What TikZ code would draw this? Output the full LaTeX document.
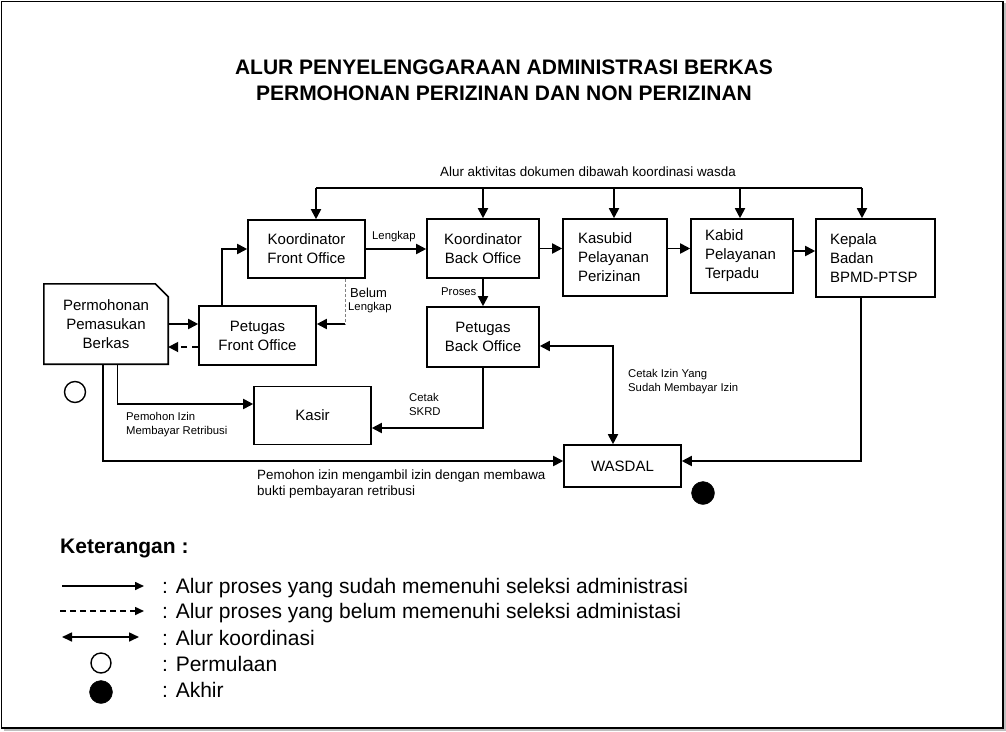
\documentclass[tikz,border=0pt]{standalone}
\usepackage{fontspec}
\setmainfont{Liberation Sans}
\usetikzlibrary{arrows.meta,positioning,calc}

\begin{document}
\begin{tikzpicture}[
    x=1pt, y=-1pt,
    box/.style={draw=black, line width=1.6pt, inner sep=0pt, align=center, font=\fontsize{15}{19}\selectfont},
    lbox/.style={box, align=left, inner xsep=14pt},
    docbox/.style={inner sep=0pt, align=center, font=\fontsize{15}{19}\selectfont},
    flow/.style={line width=1.8pt, -{Triangle[length=10pt,width=10pt]}},
    dashflow/.style={flow, dash pattern=on 6pt off 5pt},
    koord/.style={line width=1.8pt, {Triangle[length=10pt,width=10pt]}-{Triangle[length=10pt,width=10pt]}},
    dashgray/.style={gray, line width=1pt, dash pattern=on 3pt off 2pt},
    lbl/.style={inner sep=0pt, align=left, font=\fontsize{11.3}{14}\selectfont},
    note/.style={inner sep=0pt, align=left, font=\fontsize{13.4}{16}\selectfont},
    legtext/.style={inner sep=0pt, anchor=west, font=\fontsize{21}{25}\selectfont},
    legflow/.style={line width=1.6pt, -{Triangle[length=9pt,width=8pt]}},
    startdot/.style={circle, draw=black, line width=1.4pt, minimum size=21pt, inner sep=0pt},
    enddot/.style={circle, draw=black, fill=black, minimum size=23pt, inner sep=0pt}
]
\useasboundingbox (0,0) rectangle (1006,731);

% frame
\draw[gray!50, line width=2pt] (4,730) -- (1005,730) -- (1005,3);
\draw[black, line width=1.5pt] (1.5,1.5) rectangle (1003,728);

% title
\node[inner sep=0pt, align=center, font=\bfseries\fontsize{21}{26}\selectfont] (judul) at (504,80)
    {ALUR PENYELENGGARAAN ADMINISTRASI BERKAS\\PERMOHONAN PERIZINAN DAN NON PERIZINAN};

% boxes
\node[docbox, minimum width=124pt, minimum height=80pt] (mohon) at (106,324) {Permohonan\\Pemasukan\\Berkas};
\draw[line width=1.6pt] (mohon.south west) -- (mohon.north west) -- ($(mohon.north east)+(-13,0)$)
    -- ($(mohon.north east)+(0,13)$) -- (mohon.south east) -- cycle;
\node[box, minimum width=117pt, minimum height=58pt] (kfo) at (306.5,249) {Koordinator\\Front Office};
\node[box, minimum width=117pt, minimum height=59pt] (pfo) at (257.5,335.5) {Petugas\\Front Office};
\node[box, minimum width=112pt, minimum height=59pt] (kbo) at (483,248.5) {Koordinator\\Back Office};
\node[lbox, text width=74pt, minimum height=77pt, inner xsep=15pt] (kasubid) at (615,257.5) {Kasubid\\Pelayanan\\Perizinan};
\node[lbox, text width=74pt, minimum height=74pt] (kabid) at (742,256) {Kabid\\Pelayanan\\Terpadu};
\node[lbox, text width=91pt, minimum height=78pt] (kepala) at (875.5,258) {Kepala\\Badan\\BPMD-PTSP};
\node[box, minimum width=112pt, minimum height=60pt] (pbo) at (483,337) {Petugas\\Back Office};
\node[box, minimum width=117pt, minimum height=58pt] (kasir) at (312.5,415.5) {Kasir};
\node[box, minimum width=117pt, minimum height=42pt] (wasdal) at (622.5,466) {WASDAL};

\node[startdot] (mulai) at (75,392) {};
\node[enddot] (akhir) at (703,493) {};

% top coordination bar
\coordinate (b1) at (316,188);
\coordinate (b2) at (483,188);
\coordinate (b3) at (614,188);
\coordinate (b4) at (740,188);
\coordinate (b5) at (862,188);
\node[note, anchor=south] (wasda) at (588,177) {Alur aktivitas dokumen dibawah koordinasi wasda};
\draw[line width=1.8pt] (b1) -- (b5);
\foreach \b/\n in {b1/kfo, b2/kbo, b3/kasubid, b4/kabid, b5/kepala}
    \draw[flow] (\b) -- (\b |- \n.north);

% flows
\draw[flow] (pfo.north west) ++(23.5,0) |- (kfo.west);
\draw[flow] (mohon.east) -- (pfo.west |- mohon.east);
\draw[dashflow] (pfo.west |- 0,347) -- (mohon.east |- 0,347);
\coordinate (bl) at (345,324);
\draw[dashgray] (kfo.south -| bl) -- (bl);
\draw[flow] (bl) -- (pfo.east |- bl);
\node[inner sep=0pt, anchor=west, font=\fontsize{13}{15}\selectfont] (belum) at (350,293) {Belum};
\node[lbl, anchor=west] (blengkap) at (348,308) {Lengkap};

\draw[flow] (kfo.east) -- (kbo.west |- kfo.east);
\node[lbl, anchor=west] (lengkap) at (372,237) {Lengkap};
\draw[flow] (kbo.east) -- (kasubid.west |- kbo.east);
\draw[flow] (kasubid.east |- kbo.east) -- (kabid.west |- kbo.east);
\draw[flow] (kabid.east |- 0,251) -- (kepala.west |- 0,251);

\draw[flow] (kbo.south) -- (pbo.north);
\node[lbl, anchor=west] (proses) at (441,292) {Proses};

\coordinate (skrd) at (483,428);
\draw[flow] (pbo.south) -- (skrd) -- (kasir.east |- skrd);
\node[lbl, anchor=west] (cetak) at (409,404) {Cetak\\SKRD};

\coordinate (ctk) at (613,346);
\draw[koord] (pbo.east |- ctk) -- (ctk) -- (wasdal.north -| ctk);
\node[lbl, anchor=west] (cetakizin) at (628,381.5) {Cetak Izin Yang\\Sudah Membayar Izin};

\coordinate (kw) at (861,461);
\draw[flow] (kepala.south -| kw) -- (kw) -- (wasdal.east |- kw);

\coordinate (mw) at (103,461);
\draw[flow] (mohon.south -| mw) -- (mw) -- (wasdal.west |- mw);
\node[note, anchor=west] (ambil) at (257,484) {Pemohon izin mengambil izin dengan membawa\\bukti pembayaran retribusi};

\coordinate (mk) at (117.5,404);
\draw[flow] (mohon.south -| mk) -- (mk) -- (kasir.west |- mk);
\node[lbl, anchor=west] (bayar) at (126,425) {Pemohon Izin\\Membayar Retribusi};

% legend
\node[legtext, font=\bfseries\fontsize{21}{25}\selectfont] (ket) at (60,548) {Keterangan :};
\coordinate (l1a) at (62,586);  \coordinate (l1b) at (144,586);
\coordinate (l2a) at (60,611);  \coordinate (l2b) at (144,611);
\coordinate (l3a) at (62,637);  \coordinate (l3b) at (139,637);
\draw[legflow] (l1a) -- (l1b);
\draw[legflow, dash pattern=on 6pt off 4pt] (l2a) -- (l2b);
\draw[line width=1.6pt, {Triangle[length=10pt,width=9pt]}-{Triangle[length=10pt,width=9pt]}] (l3a) -- (l3b);
\node[startdot, minimum size=20pt] (legmulai) at (101,663) {};
\node[enddot, minimum size=23pt] (legakhir) at (101,692) {};
\node[legtext] (t1) at (162,588) {: Alur proses yang sudah memenuhi seleksi administrasi};
\node[legtext] (t2) at (162,613) {: Alur proses yang belum memenuhi seleksi administasi};
\node[legtext] (t3) at (162,638) {: Alur koordinasi};
\node[legtext] (t4) at (162,664) {: Permulaan};
\node[legtext] (t5) at (162,690) {: Akhir};

\end{tikzpicture}
\end{document}
